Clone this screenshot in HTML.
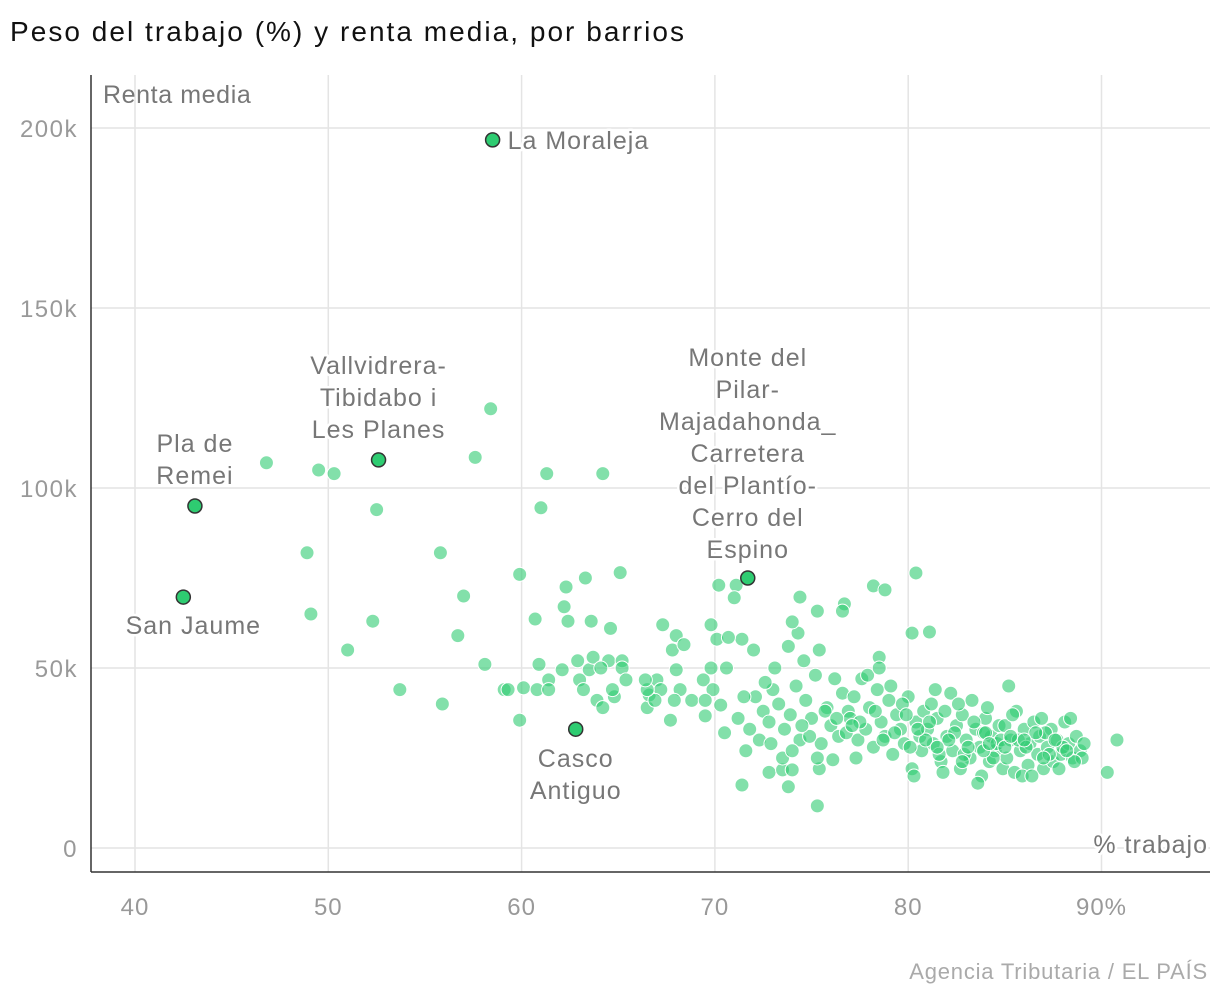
<!DOCTYPE html>
<html><head><meta charset="utf-8"><style>
body{margin:0;background:#fff;width:1220px;height:1000px;overflow:hidden;font-family:"Liberation Sans",sans-serif}
svg text{font-family:"Liberation Sans",sans-serif}
.lbl{fill:#777;font-size:25px;letter-spacing:1px;paint-order:stroke;stroke:#fff;stroke-width:5px;stroke-linejoin:round}
</style></head><body>
<svg id="chart" width="1220" height="1000" xmlns="http://www.w3.org/2000/svg">
<text x="10" y="41" font-size="28" fill="#111" textLength="674" lengthAdjust="spacing">Peso del trabajo (%) y renta media, por barrios</text>
<g id="grid"></g><g id="pts"></g><g id="hl"></g>
<line x1="91" y1="75" x2="91" y2="872" stroke="#333" stroke-width="1.5"/>
<line x1="91" y1="872" x2="1210" y2="872" stroke="#333" stroke-width="1.5"/>
<text x="103" y="103" font-size="25" fill="#777" letter-spacing="0.6">Renta media</text>
<text class="lbl" x="1208" y="853" text-anchor="end" font-size="24">% trabajo</text>
<text x="1208" y="979" text-anchor="end" font-size="22" fill="#aaa" letter-spacing="0.8">Agencia Tributaria / EL PAÍS</text>
</svg>
<script>
const xTicks=[40,50,60,70,80,90];
const xTickLabels=["40","50","60","70","80","90%"];
const yTicks=[0,50,100,150,200];
const yTickLabels=["0","50k","100k","150k","200k"];
const pctWork=[46.8,49.5,50.3,48.9,49.1,52.5,52.3,51.0,53.7,55.9,55.8,57.0,56.7,58.1,57.6,58.4,61.3,64.2,61.0,59.9,60.7,62.3,63.3,65.1,62.2,62.4,63.6,64.6,59.9,59.1,59.3,60.1,60.9,60.8,61.4,62.1,62.9,63.5,63.7,64.5,65.2,65.2,64.1,63.0,63.2,63.9,64.2,64.8,65.4,64.7,61.4,66.5,66.6,67.0,67.3,68.0,67.8,68.4,68.0,68.2,67.2,66.9,67.9,67.7,68.8,66.5,66.4,69.8,70.1,70.2,71.1,71.0,71.4,70.7,69.4,69.8,70.6,69.9,69.5,69.5,70.3,70.5,71.4,72.8,73.5,73.8,74.0,75.3,75.4,76.1,74.4,74.3,74.0,75.3,76.7,76.6,78.2,78.8,80.4,80.2,81.1,78.5,90.8,90.3,
72.1,72.5,72.8,73.0,73.3,73.6,73.9,74.2,74.4,74.7,75.0,75.2,75.5,75.8,76.0,72.3,71.6,71.8,72.6,73.1,73.8,74.6,75.4,76.2,76.6,71.2,71.5,72.0,72.9,73.5,74.0,74.9,75.3,76.4,76.9,
77.0,77.2,77.4,77.6,77.8,78.0,78.2,78.4,78.6,78.8,79.0,79.2,79.4,79.6,79.8,80.0,77.3,77.9,78.5,79.1,79.7,80.2,80.4,80.6,80.8,80.3,80.7,
81.0,81.2,81.3,81.5,81.7,81.9,82.0,82.2,82.3,82.5,82.7,82.8,83.0,83.2,83.3,83.5,83.7,83.8,84.0,84.2,84.3,84.5,84.7,84.9,81.4,82.6,83.6,84.1,84.6,81.8,82.9,83.9,84.8,
85.0,85.1,85.3,85.5,85.6,85.8,86.0,86.2,86.3,86.5,86.7,86.8,87.0,87.2,87.4,87.5,87.7,87.9,88.1,88.3,88.5,88.7,88.9,89.1,85.2,85.9,86.9,87.8,88.4,89.0,85.4,86.4,87.1,88.0,
74.5,75.7,76.8,77.5,78.3,79.3,80.1,80.9,81.6,82.4,83.1,83.4,84.4,85.7,86.1,86.6,87.3,87.6,88.6,79.9,81.1,82.1,83.9,84.0,85.0,86.0,87.0,88.2,78.7,77.1,76.3,82.8,80.5,81.5,84.2,85.3];
const income=[107,105,104,82,65,94,63,55,44,40,82,70,59,51,108.5,122,104,104,94.5,76,63.6,72.5,75,76.5,67,63,63,61,35.5,44,44,44.5,51,44,46.7,49.5,52,49.5,53,52,52,50,50,46.7,44,41,39,42,46.7,44,44,39,42.5,46.7,62,59,55,56.5,49.5,44,44,41,41,35.5,41,44,46.7,62,58,73,73,69.5,58,58.5,46.7,50,50,44,41,36.7,39.7,32,17.5,21,21.7,17,21.7,11.7,22,24.5,69.7,59.7,62.8,65.8,67.8,65.8,72.8,71.7,76.4,59.7,60,53,30,21,
42,38,35,44,40,33,37,45,30,41,36,48,29,39,34,30,27,33,46,50,56,52,55,47,43,36,42,55,29,25,27,31,25,31,38,
36,42,30,47,33,39,28,44,35,31,41,26,37,33,29,42,25,48,50,45,40,22,35,31,38,20,27,
33,40,29,36,24,38,31,43,27,34,22,37,30,25,41,33,28,20,36,24,31,27,34,22,44,40,18,39,29,21,26,32,30,
34,25,30,21,38,27,33,23,29,35,26,31,22,28,33,24,30,26,35,29,25,31,27,29,45,20,36,22,36,25,37,20,32,28,
34,38,32,35,38,32,28,30,26,32,28,35,25,30,28,32,26,30,24,37,35,30,27,32,28,30,25,27,30,34,36,24,33,28,29,31];
const hlPct=[58.5,52.6,43.1,42.5,62.8,71.7];
const hlIncome=[196.7,107.8,95,69.7,33,75];
const hlLabels=[["La Moraleja"],["Vallvidrera-","Tibidabo i","Les Planes"],["Pla de","Remei"],["San Jaume"],["Casco","Antiguo"],["Monte del","Pilar-","Majadahonda_","Carretera","del Plantío-","Cerro del","Espino"]];
const NS="http://www.w3.org/2000/svg";
const xs=v=>135+(v-40)*19.33;
const ys=v=>848-v*3.6;
function mk(tag,attrs,parent){const e=document.createElementNS(NS,tag);for(const k in attrs)e.setAttribute(k,attrs[k]);parent.appendChild(e);return e;}
const grid=document.getElementById('grid');
xTicks.forEach((t,i)=>{
  const l=mk('line',{x1:xs(t),x2:xs(t),y1:75,y2:872,stroke:'#e4e4e4','stroke-width':1.5},grid);
  
  
  const tx=mk('text',{x:xs(t),y:915,'text-anchor':'middle','font-size':24,fill:'#999','letter-spacing':1},grid);
  tx.textContent=xTickLabels[i];
  
  
});
yTicks.forEach((t,i)=>{
  const l=mk('line',{x1:91,x2:1210,y1:ys(t),y2:ys(t),stroke:'#e4e4e4','stroke-width':1.5},grid);
  
  
  const tx=mk('text',{x:78,y:ys(t)+9,'text-anchor':'end','font-size':24,fill:'#999','letter-spacing':1.5},grid);
  tx.textContent=yTickLabels[i];
  
  
});
const pts=document.getElementById('pts');
pctWork.forEach((p,i)=>{
  const c=mk('circle',{cx:xs(p),cy:ys(income[i]),r:7,fill:'#2ecc71','fill-opacity':0.6,stroke:'#fff','stroke-width':1},pts);
  
  
});
const hl=document.getElementById('hl');
const lblPos=[[15,9,'start'],[0,-86,'middle'],[0,-54,'middle'],[10,37,'middle'],[0,38,'middle'],[0,-212,'middle']];
hlPct.forEach((p,i)=>{
  const cx=xs(p),cy=ys(hlIncome[i]);
  const c=mk('circle',{cx:cx,cy:cy,r:7,fill:'#2ecc71',stroke:'#333','stroke-width':1.5},hl);
  
  
  const [dx,dy,anc]=lblPos[i];
  hlLabels[i].forEach((line,j)=>{
    const t=mk('text',{x:cx+dx,y:cy+dy+j*32,'text-anchor':anc,class:'lbl'},hl);
    t.textContent=line;
    
    
  });
});
</script>
</body></html>
